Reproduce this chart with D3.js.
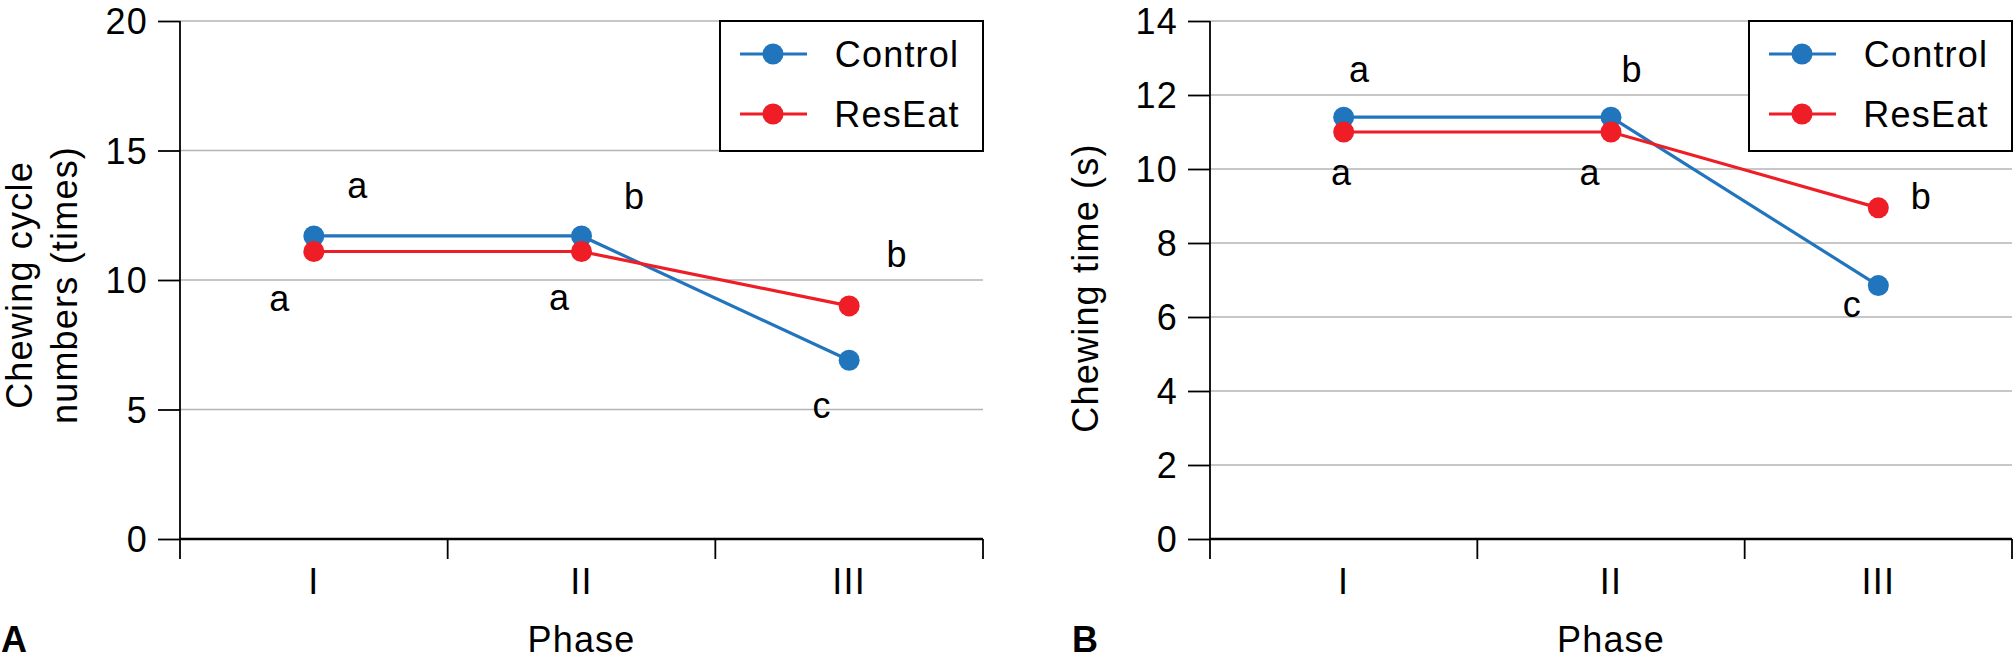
<!DOCTYPE html>
<html>
<head>
<meta charset="utf-8">
<script src="https://cdn.jsdelivr.net/npm/d3@7"></script>
<style>
  html, body { margin: 0; padding: 0; background: #fff; }
  svg { display: block; font-family: "Liberation Sans", Arial, sans-serif; }
  svg text { letter-spacing: 1.2px; }
</style>
</head>
<body>
<svg id="chart" width="2014" height="666"></svg>
<script>
// ---------- data ----------
const phases = ["I", "II", "III"];
const seriesNames = ["Control", "ResEat"];

const controlA = [11.7, 11.7, 6.9];
const resEatA  = [11.1, 11.1, 9.0];
const controlB = [11.4, 11.4, 6.85];
const resEatB  = [11.0, 11.0, 8.95];

const ticksA = [0, 5, 10, 15, 20];
const ticksB = [0, 2, 4, 6, 8, 10, 12, 14];

const lettersControlA = ["a", "b", "c"];
const lettersResEatA  = ["a", "a", "b"];
const lettersControlB = ["a", "b", "c"];
const lettersResEatB  = ["a", "a", "b"];

// ---------- layout / style ----------
const colors = { Control: "#2175bd", ResEat: "#ee1d26" };
const FONT = 36;
const plotTop = 21, plotBottom = 539;

// letter offsets (pixels, relative to the point) per panel, per series
const offA = {
  Control: [[44, -38], [53, -27], [-27, 58]],
  ResEat:  [[-34, 59], [-22, 58], [48, -39]]
};
const offB = {
  Control: [[16, -35], [21, -35], [-26, 31]],
  ResEat:  [[-2, 53], [-21, 53], [43, 1]]
};

const svg = d3.select("#chart");

function panel(cfg) {
  const g = svg.append("g");
  const x = d3.scaleBand().domain(phases).range([cfg.left, cfg.right]).padding(0);
  const y = d3.scaleLinear().domain([0, cfg.max]).range([plotBottom, plotTop]);
  const cx = c => x(c) + x.bandwidth() / 2;

  // gridlines
  g.selectAll(".grid").data(cfg.ticks.filter(t => t !== 0)).enter().append("line")
    .attr("x1", cfg.left).attr("x2", cfg.right)
    .attr("y1", d => y(d)).attr("y2", d => y(d))
    .attr("stroke", "#b4b4b4").attr("stroke-width", 1.6);

  // y axis ticks + labels
  const yAxis = d3.axisLeft(y).tickValues(cfg.ticks).tickSize(22).tickPadding(10).tickSizeOuter(0);
  const ya = g.append("g").attr("transform", `translate(${cfg.left},0)`).call(yAxis);
  ya.select(".domain").remove();
  ya.selectAll(".tick line").attr("stroke", "#000").attr("stroke-width", 1.8);
  ya.selectAll(".tick text").attr("font-size", FONT).attr("fill", "#000")
    .attr("font-family", "Liberation Sans, Arial, sans-serif").attr("dy", "0.35em");

  // y axis line (extends below zero)
  g.append("line").attr("x1", cfg.left).attr("x2", cfg.left)
    .attr("y1", plotTop).attr("y2", plotBottom + 20)
    .attr("stroke", "#000").attr("stroke-width", 1.8);
  // x axis line
  g.append("line").attr("x1", cfg.left).attr("x2", cfg.right)
    .attr("y1", y(0)).attr("y2", y(0))
    .attr("stroke", "#000").attr("stroke-width", 2.4);
  // category boundary ticks
  const edges = phases.map(p => x(p)).concat([cfg.right]);
  g.selectAll(".xt").data(edges.slice(1)).enter().append("line")
    .attr("x1", d => d).attr("x2", d => d)
    .attr("y1", y(0)).attr("y2", y(0) + 20)
    .attr("stroke", "#000").attr("stroke-width", 1.8);
  // category labels
  g.selectAll(".xl").data(phases).enter().append("text")
    .attr("x", d => cx(d)).attr("y", 594)
    .attr("text-anchor", "middle").attr("font-size", FONT).text(d => d);
  // x title
  g.append("text").attr("x", (cfg.left + cfg.right) / 2).attr("y", 652)
    .attr("text-anchor", "middle").attr("font-size", FONT).text("Phase");
  // panel letter
  g.append("text").attr("x", cfg.panelX).attr("y", 652)
    .attr("font-size", FONT).attr("font-weight", "bold").text(cfg.panelLabel);
  // y title
  cfg.yTitle.forEach((t, i) => {
    g.append("text")
      .attr("transform", `translate(${cfg.yTitleX[i]},${cfg.yTitleY}) rotate(-90)`)
      .attr("text-anchor", "middle").attr("font-size", FONT).text(t);
  });

  // series
  const series = [
    { name: "Control", values: cfg.control, letters: cfg.lettersControl },
    { name: "ResEat", values: cfg.resEat, letters: cfg.lettersResEat }
  ];
  const line = d3.line().x((d, i) => cx(phases[i])).y(d => y(d));
  series.forEach(s => {
    g.append("path").attr("d", line(s.values)).attr("fill", "none")
      .attr("stroke", colors[s.name]).attr("stroke-width", 3.2);
  });
  [series[0], series[1]].forEach(s => {
    g.selectAll(null).data(s.values).enter().append("circle")
      .attr("cx", (d, i) => cx(phases[i])).attr("cy", d => y(d)).attr("r", 10.5)
      .attr("fill", colors[s.name]);
  });
  series.forEach(s => {
    g.selectAll(null).data(s.values).enter().append("text")
      .attr("x", (d, i) => cx(phases[i]) + cfg.off[s.name][i][0])
      .attr("y", (d, i) => y(d) + cfg.off[s.name][i][1])
      .attr("text-anchor", "middle").attr("font-size", FONT)
      .text((d, i) => s.letters[i]);
  });

  // legend
  const lw = 263, lh = 130;
  const lx = cfg.right - lw, ly = plotTop;
  const lg = g.append("g");
  lg.append("rect").attr("x", lx).attr("y", ly).attr("width", lw).attr("height", lh)
    .attr("fill", "#fff").attr("stroke", "#000").attr("stroke-width", 2);
  seriesNames.forEach((n, i) => {
    const ry = ly + 33 + i * 60;
    lg.append("line").attr("x1", lx + 20).attr("x2", lx + 87).attr("y1", ry).attr("y2", ry)
      .attr("stroke", colors[n]).attr("stroke-width", 3.2);
    lg.append("circle").attr("cx", lx + 53).attr("cy", ry).attr("r", 10.5).attr("fill", colors[n]);
    lg.append("text").attr("x", lx + 177).attr("y", ry + 12.5)
      .attr("text-anchor", "middle").attr("font-size", FONT).text(n);
  });
}

panel({
  left: 180, right: 983, max: 20, ticks: ticksA,
  control: controlA, resEat: resEatA,
  lettersControl: lettersControlA, lettersResEat: lettersResEatA, off: offA,
  panelLabel: "A", panelX: 1,
  yTitle: ["Chewing cycle", "numbers (times)"], yTitleX: [32, 77], yTitleY: 285
});
panel({
  left: 1210, right: 2012, max: 14, ticks: ticksB,
  control: controlB, resEat: resEatB,
  lettersControl: lettersControlB, lettersResEat: lettersResEatB, off: offB,
  panelLabel: "B", panelX: 1072,
  yTitle: ["Chewing time (s)"], yTitleX: [1098], yTitleY: 288
});
</script>
</body>
</html>
